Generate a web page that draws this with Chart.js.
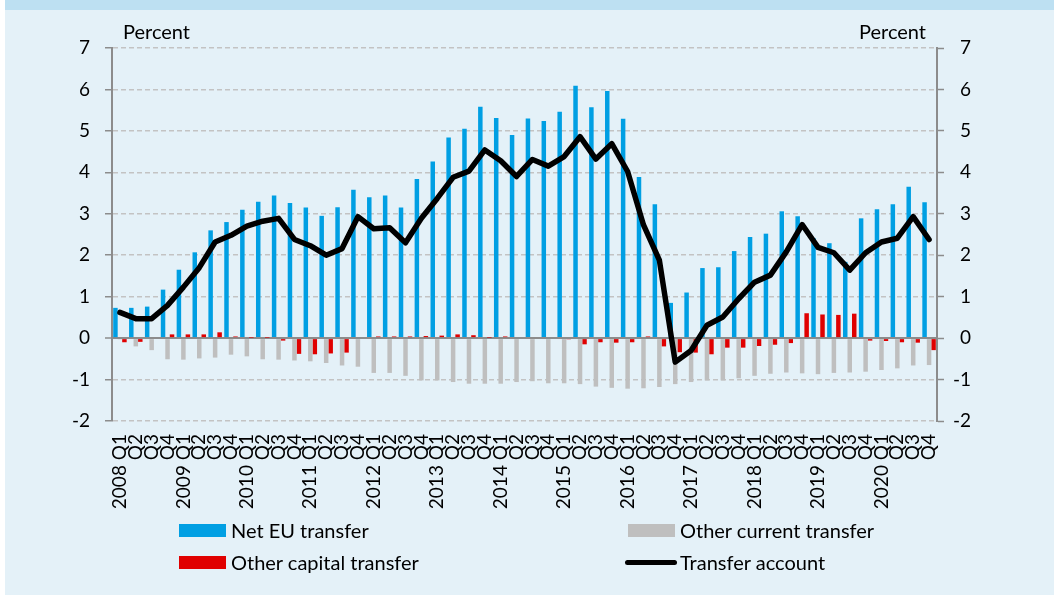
<!DOCTYPE html>
<html>
<head>
<meta charset="utf-8">
<script src="https://cdn.jsdelivr.net/npm/chart.js@4/dist/chart.umd.min.js"></script>
<style>
  html, body { margin: 0; padding: 0; }
  body { width: 1054px; height: 595px; position: relative; background: #e4f1f8; overflow: hidden; font-family: Lato, 'Open Sans', sans-serif; }
  #band { position: absolute; left: 0; top: 0; width: 1054px; height: 10px; background: #bde0f2; }
  #edge { position: absolute; left: 0; top: 0; width: 5px; height: 595px; background: #ffffff; }
  #chart { position: absolute; left: 0; top: 0; }
  .unit { position: absolute; top: 20px; font-size: 20px; line-height: 22px; color: #000; }
  .leg { position: absolute; font-size: 20px; line-height: 22px; color: #000; white-space: nowrap; }
  .box { position: absolute; }
</style>
</head>
<body>
<div id="band"></div>
<div id="edge"></div>
<canvas id="chart" width="1054" height="595"></canvas>
<div class="unit" style="left:123px">Percent</div>
<div class="unit" style="right:128px">Percent</div>
<div id="legend"></div>
<script>
const years = ['2008', '2009', '2010', '2011', '2012', '2013', '2014', '2015', '2016', '2017', '2018', '2019', '2020']
const quarters = ['Q1', 'Q2', 'Q3', 'Q4']

// Net EU transfer, per cent
const netEU = [
  0.73, 0.73, 0.76, 1.17, 1.65, 2.07, 2.60, 2.80, 3.10,
  3.29, 3.44, 3.26, 3.15, 2.95, 3.16, 3.58, 3.40, 3.44,
  3.15, 3.84, 4.26, 4.84, 5.05, 5.58, 5.31, 4.90,
  5.30, 5.24, 5.46, 6.09, 5.57, 5.96, 5.29, 3.89, 3.23,
  0.85, 1.10, 1.69, 1.71, 2.10, 2.44, 2.52, 3.06,
  2.94, 2.41, 2.29, 1.84, 2.89, 3.11, 3.23, 3.65, 3.28,
]

const otherCurrent = [
  -0.03, -0.20, -0.29, -0.51, -0.52, -0.49, -0.47, -0.40, -0.44,
  -0.51, -0.52, -0.54, -0.56, -0.60, -0.66, -0.69, -0.84,
  -0.84, -0.91, -1.02, -1.02, -1.06, -1.10, -1.10, -1.10, -1.06,
  -1.04, -1.09, -1.09, -1.11, -1.17, -1.20, -1.22, -1.21, -1.18,
  -1.11, -1.06, -1.02, -1.02, -0.97, -0.91, -0.86, -0.83,
  -0.85, -0.87, -0.84, -0.83, -0.81, -0.77, -0.73, -0.66, -0.65,
]

const otherCapital = [
  -0.10, -0.09, 0.00, 0.09, 0.09, 0.09, 0.14, 0.04, 0.01,
  0.01, -0.06, -0.38, -0.39, -0.37, -0.35, 0.00, 0.04,
  0.04, 0.04, 0.05, 0.06, 0.09, 0.07, 0.01, 0.04, 0.00,
  0.00, 0.00, -0.03, -0.15, -0.10, -0.11, -0.10, 0.04, -0.20,
  -0.34, -0.35, -0.39, -0.23, -0.23, -0.19, -0.16, -0.12,
  0.60, 0.57, 0.56, 0.59, -0.06, -0.07, -0.10, -0.11, -0.29,
]

const transferAccount = [
  0.62, 0.47, 0.47, 0.79, 1.23, 1.70, 2.32, 2.48, 2.70, 2.82,
  2.89, 2.38, 2.23, 2.00, 2.16, 2.93, 2.64, 2.66, 2.30, 2.89,
  3.37, 3.88, 4.03, 4.54, 4.28, 3.90, 4.31, 4.15, 4.38, 4.86,
  4.32, 4.69, 4.02, 2.73, 1.88, -0.58, -0.30, 0.31, 0.51, 0.95,
  1.35, 1.52, 2.08, 2.74, 2.19, 2.06, 1.64, 2.06, 2.32, 2.41,
  2.93, 2.38,
]

const yTicks = [-2, -1, 0, 1, 2, 3, 4, 5, 6, 7]

const labels = []
for (let y of years) {
  for (let q of quarters) {
    labels.push(q === 'Q1' ? y + ' ' + q : q)
  }
}

const BLUE = '#009fe3'
const GREY = '#bfbfbf'
const RED = '#e00000'
const AXIS = '#8c8c8c'
const font = { family: 'Lato', size: 19 }

const barDefaults = {
  type: 'bar',
  order: 1,
  categoryPercentage: 0.85,
  barPercentage: 1.0,
  borderWidth: 0,
}

new Chart(document.getElementById('chart'), {
  type: 'bar',
  data: {
    labels: labels,
    datasets: [
      { ...barDefaults, label: 'Net EU transfer', data: netEU, backgroundColor: BLUE },
      { ...barDefaults, label: 'Other current transfer', data: otherCurrent, backgroundColor: GREY },
      { ...barDefaults, label: 'Other capital transfer', data: otherCapital, backgroundColor: RED },
      {
        type: 'line',
        order: 0,
        label: 'Transfer account',
        data: transferAccount,
        borderColor: '#000',
        borderWidth: 5.5,
        borderJoinStyle: 'round',
        borderCapStyle: 'round',
        pointRadius: 0,
        tension: 0,
        fill: false,
      },
    ],
  },
  options: {
    responsive: false,
    animation: false,
    layout: { padding: { left: 0, right: 83, top: 48, bottom: 80 } },
    plugins: { legend: { display: false }, tooltip: { enabled: false } },
    scales: {
      x: {
        offset: true,
        grid: { display: false, drawTicks: false },
        border: { display: false },
        ticks: { autoSkip: false, minRotation: 90, maxRotation: 90, padding: 13, color: '#000', font: font },
        afterFit: (s) => { s.height = 94 },
      },
      y: {
        position: 'left',
        min: -2,
        max: 7,
        afterBuildTicks: (s) => { s.ticks = yTicks.map((v) => ({ value: v })) },
        grid: {
          color: (c) => (c.tick && c.tick.value === 0 ? AXIS : '#c3c3c3'),
          lineWidth: (c) => (c.tick && c.tick.value === 0 ? 2 : 1.5),
          tickColor: AXIS,
          tickLength: 7,
          tickWidth: 1.5,
          tickBorderDash: [],
        },
        border: {
          display: true,
          color: AXIS,
          width: 2,
          dash: (c) => (c.tick && c.tick.value === 0 ? [] : [5, 3]),
        },
        ticks: { color: '#000', font: font, padding: 15 },
        afterFit: (s) => { s.width = 112 },
      },
      y2: {
        position: 'right',
        min: -2,
        max: 7,
        afterBuildTicks: (s) => { s.ticks = yTicks.map((v) => ({ value: v })) },
        grid: { drawOnChartArea: false, tickColor: AXIS, tickLength: 7, tickWidth: 1.5 },
        border: { display: true, color: AXIS, width: 2 },
        ticks: { color: '#000', font: font, padding: 10, crossAlign: 'far' },
        afterFit: (s) => { s.width = 971 - 937 },
      },
    },
  },
})

// legend, 2 x 2 like the original
const legendItems = [
  { text: 'Net EU transfer', color: BLUE, kind: 'box', x: 179, y: 524 },
  { text: 'Other current transfer', color: GREY, kind: 'box', x: 628, y: 524 },
  { text: 'Other capital transfer', color: RED, kind: 'box', x: 179, y: 556 },
  { text: 'Transfer account', color: '#000', kind: 'line', x: 625, y: 556 },
]
const legend = document.getElementById('legend')
for (let item of legendItems) {
  const mark = document.createElement('div')
  mark.className = 'box'
  if (item.kind === 'box') {
    mark.style.cssText = `left:${item.x}px;top:${item.y}px;width:47px;height:13px;background:${item.color}`
  } else {
    mark.style.cssText = `left:${item.x}px;top:${item.y + 4}px;width:52px;height:5px;border-radius:3px;background:${item.color}`
  }
  legend.appendChild(mark)
  const txt = document.createElement('div')
  txt.className = 'leg'
  txt.style.left = (item.x + (item.kind === 'box' ? 52 : 55)) + 'px'
  txt.style.top = (item.y - 5) + 'px'
  txt.textContent = item.text
  legend.appendChild(txt)
}
</script>
</body>
</html>
